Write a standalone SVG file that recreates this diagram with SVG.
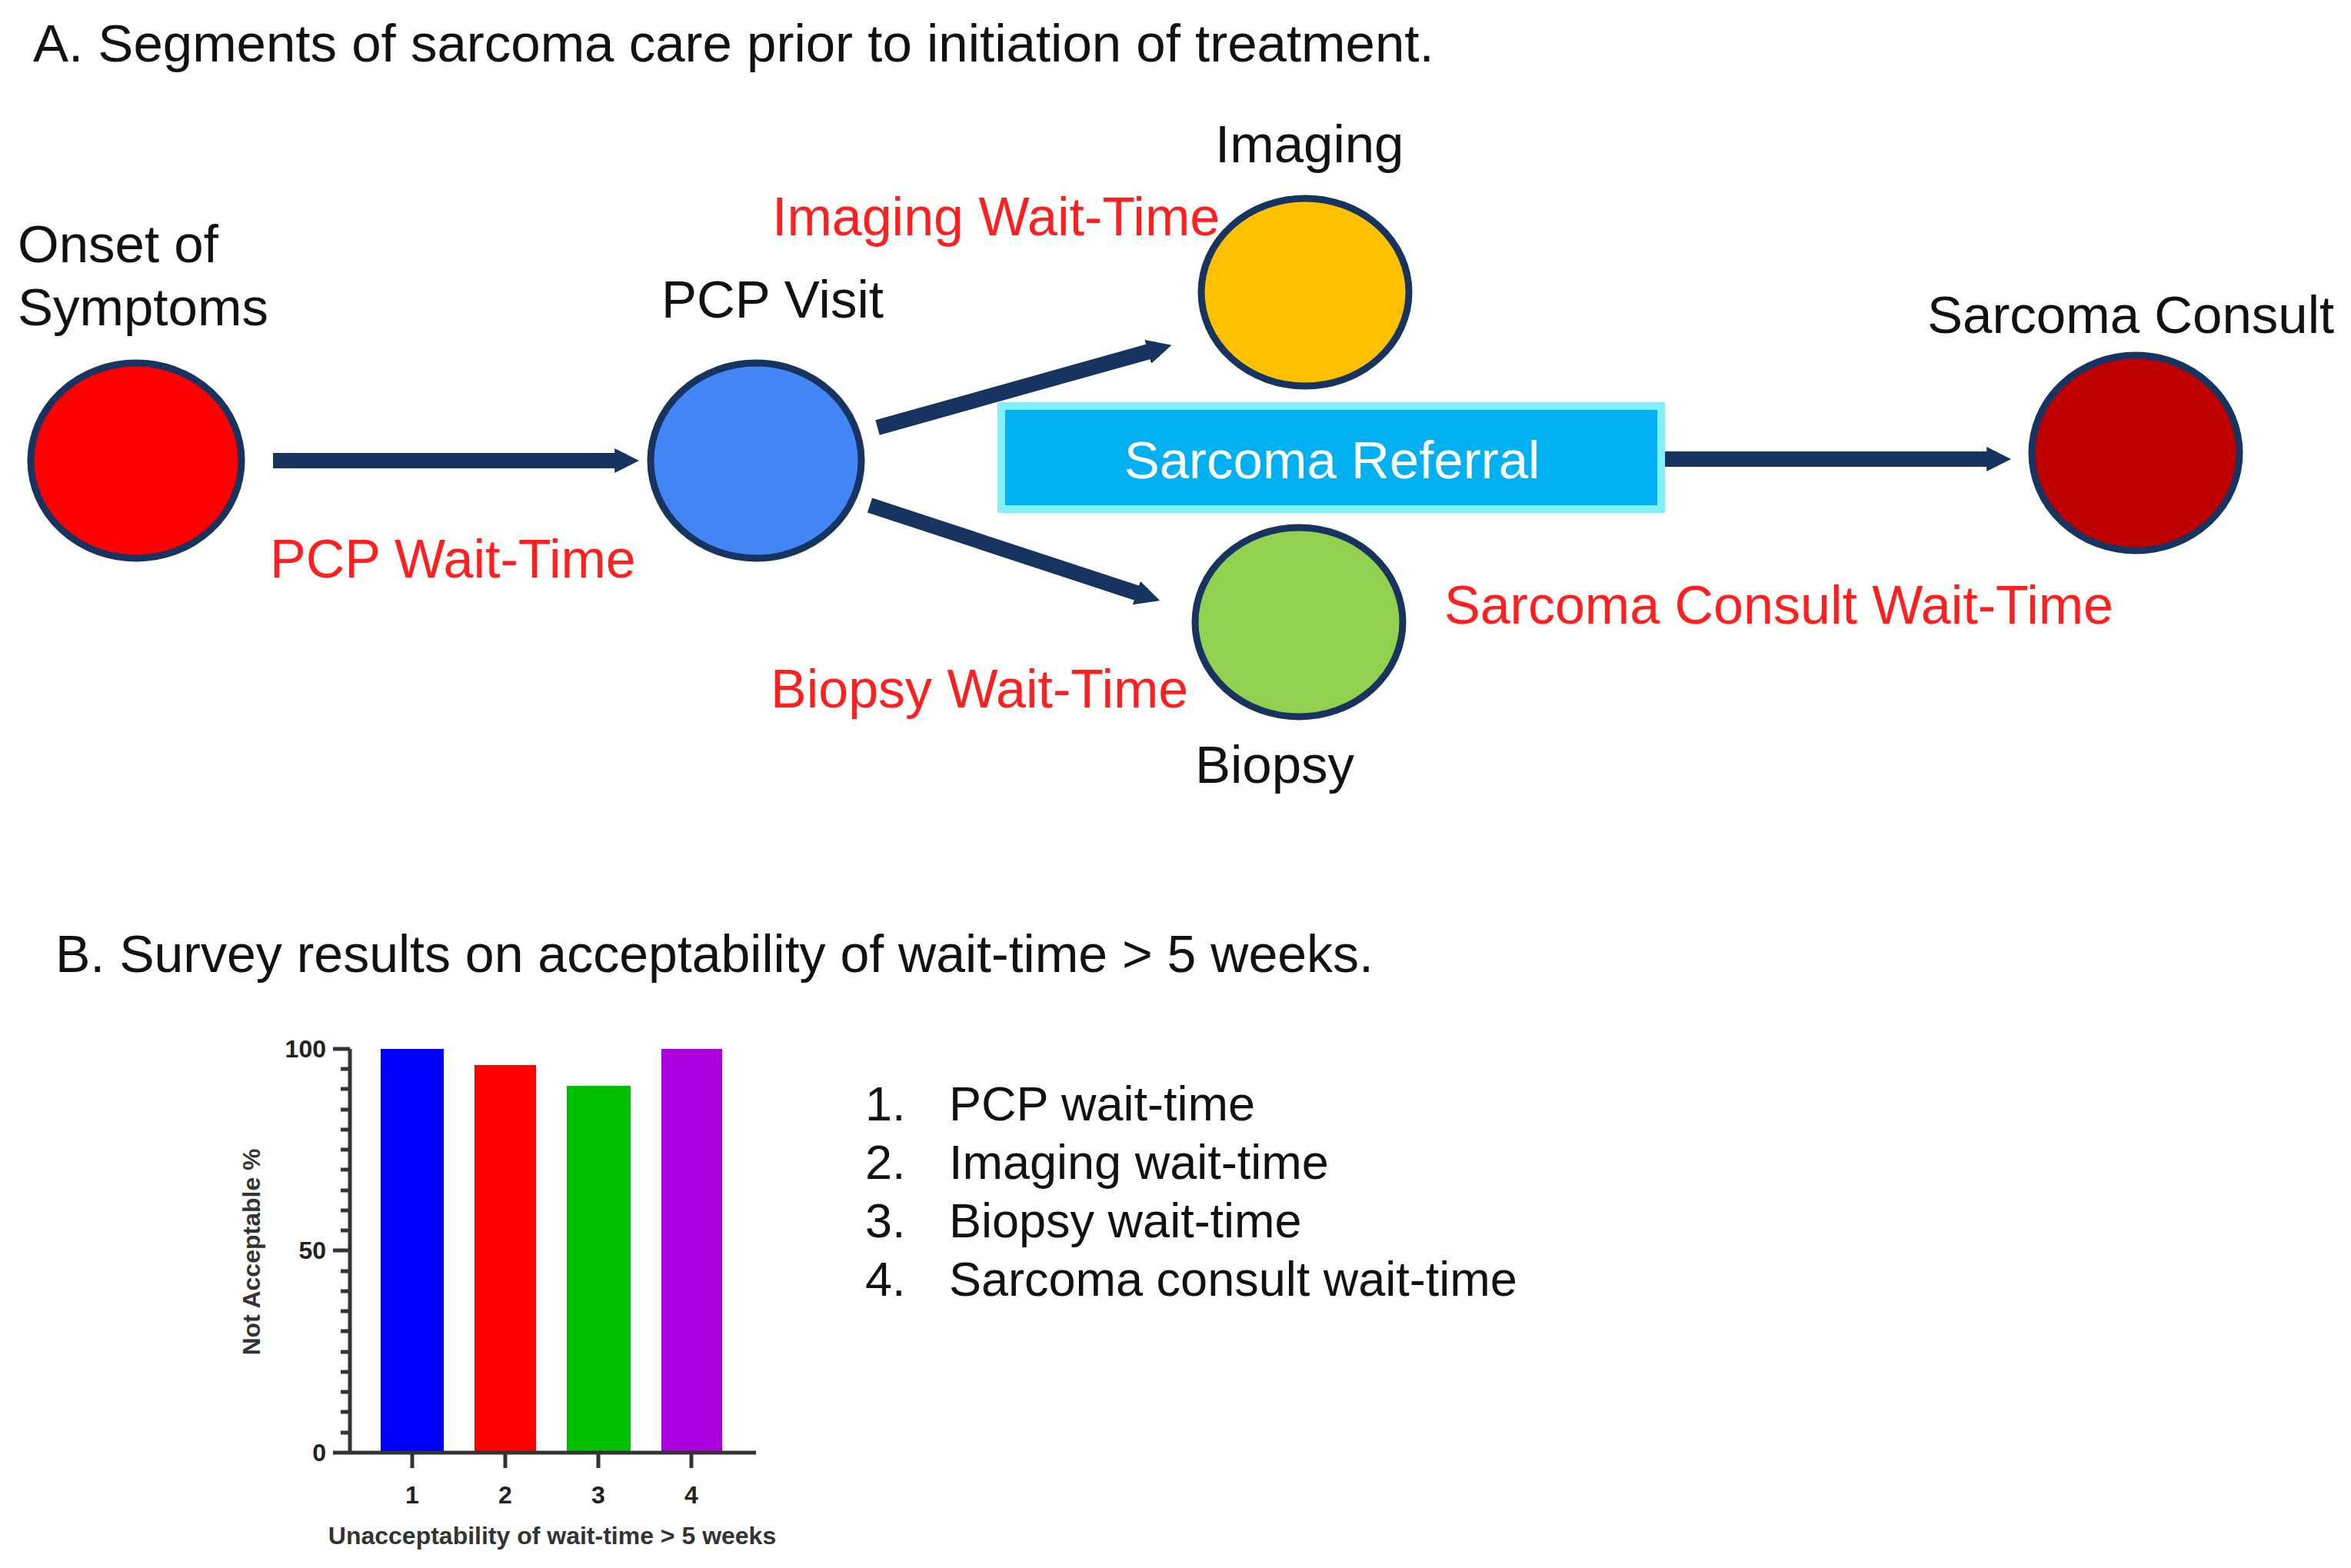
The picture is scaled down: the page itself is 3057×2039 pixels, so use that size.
<svg xmlns="http://www.w3.org/2000/svg" width="3057" height="2039" viewBox="0 0 3057 2039">
<style>
text{font-family:"Liberation Sans",Arial,sans-serif}
.t{font-size:69px;fill:#111}
.r{font-size:70px;fill:#ff1f1f}
.n{stroke:#17335f;stroke-width:9}
.c{stroke:#17335f;stroke-width:20;fill:none;marker-end:url(#ah)}
.ax{stroke:#333;stroke-width:5;fill:none}
.tk{font-size:32px;font-weight:bold;fill:#222}
</style>
<defs>
<marker id="ah" viewBox="0 0 10 10" refX="4" refY="5" markerWidth="1.6" markerHeight="2.2" orient="auto" markerUnits="strokeWidth"><path d="M0,0L10,5L0,10z" fill="#17335f"/></marker>
</defs>
<rect width="3057" height="2039" fill="#fff"/>
<text x="43" y="80" style="font-size:69px;fill:#111">A. Segments of sarcoma care prior to initiation of treatment.</text>
<g id="connectors">
<line class="c" x1="355" y1="599" x2="812" y2="599"/>
<line class="c" x1="1141" y1="556" x2="1505" y2="454"/>
<line class="c" x1="1131" y1="657" x2="1490" y2="775"/>
<line class="c" x1="2165" y1="597" x2="2596" y2="597"/>
</g>
<g id="onset"><ellipse class="n" cx="177" cy="599" rx="137" ry="127" fill="#ff0000"/>
<text class="t" x="23" y="341">Onset of</text><text class="t" x="23" y="423">Symptoms</text></g>
<g id="pcp"><ellipse class="n" cx="983" cy="599" rx="137" ry="127" fill="#4285f4"/>
<text class="t" x="860" y="413">PCP Visit</text></g>
<text class="r" x="351" y="751">PCP Wait-Time</text>
<g id="imaging"><ellipse class="n" cx="1697" cy="380" rx="135" ry="122" fill="#ffc000"/>
<text class="t" x="1580" y="211">Imaging</text></g>
<text class="r" x="1004" y="306">Imaging Wait-Time</text>
<g id="biopsy"><ellipse class="n" cx="1689" cy="809" rx="135" ry="123" fill="#92d050"/>
<text class="t" x="1554" y="1018">Biopsy</text></g>
<text class="r" x="1002" y="920">Biopsy Wait-Time</text>
<g id="referral"><rect x="1302" y="528" width="858" height="134" fill="#00b0f0" stroke="#80f0ff" stroke-width="10"/>
<text x="1732" y="622" text-anchor="middle" style="font-size:69px;fill:#fff">Sarcoma Referral</text></g>
<g id="consult"><ellipse class="n" cx="2777" cy="589" rx="135" ry="127" fill="#c00000"/>
<text class="t" x="2506" y="433">Sarcoma Consult</text></g>
<text class="r" x="1878" y="811">Sarcoma Consult Wait-Time</text>
<text x="72" y="1264" style="font-size:68px;fill:#111">B. Survey results on acceptability of wait-time &gt; 5 weeks.</text>
<g id="chart">
<rect x="495" y="1364" width="82" height="525" fill="#0000ff"/>
<rect x="617" y="1385" width="80" height="504" fill="#ff0000"/>
<rect x="737" y="1412" width="83" height="477" fill="#00c000"/>
<rect x="860" y="1364" width="79" height="525" fill="#aa00dd"/>
<path class="ax" d="M455,1364V1889M433,1889H983M433,1364H455M433,1626H455M536,1889V1909M657,1889V1909M778,1889V1909M899,1889V1909"/>
<path class="ax" d="M443,1390H455M443,1416H455M443,1443H455M443,1469H455M443,1495H455M443,1521H455M443,1548H455M443,1574H455M443,1600H455M443,1653H455M443,1679H455M443,1705H455M443,1731H455M443,1758H455M443,1784H455M443,1810H455M443,1836H455M443,1863H455"/>
<text class="tk" x="424" y="1375" text-anchor="end">100</text>
<text class="tk" x="424" y="1637" text-anchor="end">50</text>
<text class="tk" x="424" y="1900" text-anchor="end">0</text>
<text class="tk" x="536" y="1955" text-anchor="middle">1</text>
<text class="tk" x="657" y="1955" text-anchor="middle">2</text>
<text class="tk" x="778" y="1955" text-anchor="middle">3</text>
<text class="tk" x="899" y="1955" text-anchor="middle">4</text>
<text x="718" y="2008" text-anchor="middle" style="font-size:32px;font-weight:bold;fill:#333">Unacceptability of wait-time &gt; 5 weeks</text>
<text x="0" y="0" transform="translate(338,1628) rotate(-90)" text-anchor="middle" style="font-size:32px;font-weight:bold;fill:#333">Not Acceptable %</text>
</g>
<g id="legend" style="font-size:63px;fill:#111">
<text x="1125" y="1457">1.</text><text x="1234" y="1457">PCP wait-time</text>
<text x="1125" y="1533">2.</text><text x="1234" y="1533">Imaging wait-time</text>
<text x="1125" y="1609">3.</text><text x="1234" y="1609">Biopsy wait-time</text>
<text x="1125" y="1685">4.</text><text x="1234" y="1685">Sarcoma consult wait-time</text>
</g>
</svg>
